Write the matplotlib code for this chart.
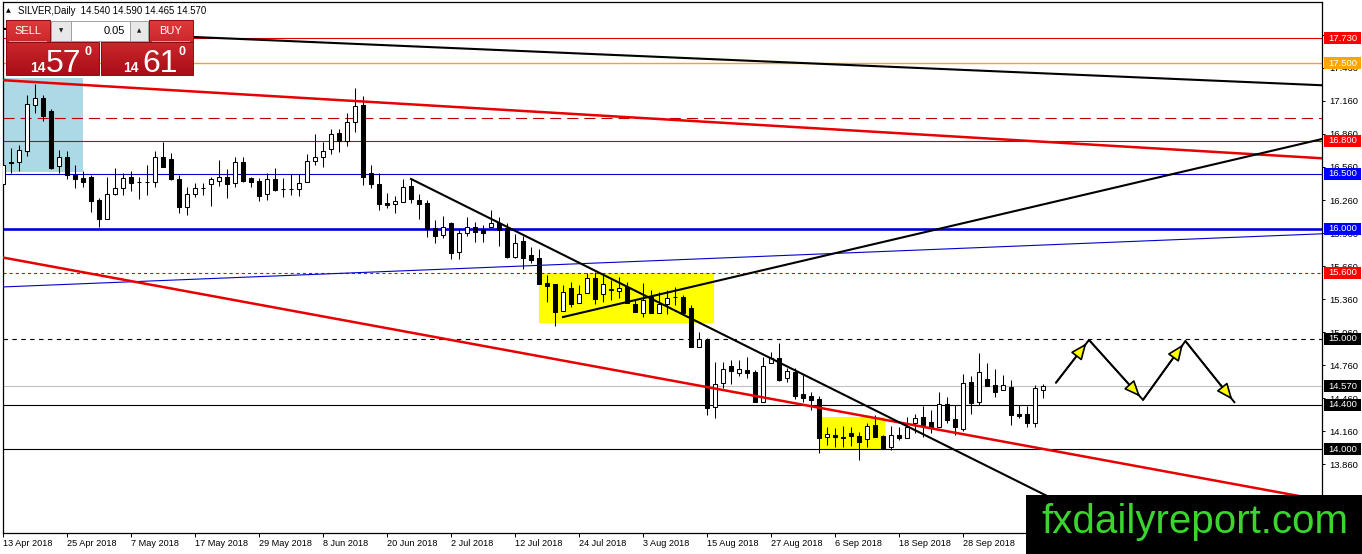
import numpy as np
import pandas as pd
import matplotlib
matplotlib.use('Agg')
import matplotlib.pyplot as plt
import matplotlib.colors as mcolors
import matplotlib.transforms as mtransforms
from matplotlib.patches import Rectangle, FancyArrowPatch
from matplotlib.ticker import FixedLocator, FormatStrFormatter

plt.rcParams['font.family'] = ['Liberation Sans', 'DejaVu Sans']
plt.rcParams['lines.scale_dashes'] = False

# ---------------- data ----------------
opens = [16.405, 16.605, 16.605, 16.705, 17.122, 17.186, 17.068, 16.569, 16.650, 16.487,
         16.460, 16.469, 16.260, 16.088, 16.315, 16.369, 16.469, 16.423, 16.425, 16.423,
         16.650, 16.632, 16.451, 16.197, 16.315, 16.365, 16.405, 16.433, 16.469, 16.414,
         16.605, 16.460, 16.433, 16.315, 16.451, 16.362, 16.358, 16.360, 16.423, 16.614,
         16.650, 16.723, 16.868, 16.796, 16.968, 17.122, 16.505, 16.405, 16.233, 16.224,
         16.242, 16.387, 16.260, 16.233, 16.006, 15.943, 16.052, 15.788, 15.961, 16.015,
         15.988, 16.015, 16.052, 16.006, 15.743, 15.888, 15.761, 15.734, 15.507, 15.498,
         15.253, 15.462, 15.326, 15.416, 15.552, 15.407, 15.444, 15.435, 15.471, 15.317,
         15.235, 15.380, 15.235, 15.317, 15.380, 15.380, 15.280, 14.926, 14.990, 14.382,
         14.600, 14.754, 14.690, 14.718, 14.700, 14.427, 14.781, 14.827, 14.645, 14.700,
         14.500, 14.482, 14.455, 14.110, 14.128, 14.110, 14.146, 14.119, 14.092, 14.219,
         14.119, 14.019, 14.128, 14.101, 14.237, 14.292, 14.246, 14.201, 14.409, 14.273,
         14.183, 14.609, 14.427, 14.636, 14.582, 14.536, 14.563, 14.318, 14.318, 14.237,
         14.540]
highs = [16.650, 16.732, 16.759, 17.213, 17.313, 17.213, 17.086, 16.714, 16.705, 16.578,
         16.523, 16.487, 16.278, 16.469, 16.550, 16.505, 16.523, 16.469, 16.578, 16.705,
         16.786, 16.687, 16.487, 16.378, 16.414, 16.414, 16.469, 16.623, 16.541, 16.650,
         16.650, 16.469, 16.460, 16.505, 16.550, 16.460, 16.496, 16.496, 16.678, 16.859,
         16.786, 16.904, 16.904, 17.050, 17.276, 17.204, 16.578, 16.505, 16.324, 16.297,
         16.451, 16.451, 16.315, 16.260, 16.079, 16.115, 16.061, 15.997, 16.106, 16.061,
         16.034, 16.170, 16.106, 16.052, 15.952, 15.934, 15.834, 15.815, 15.580, 15.498,
         15.489, 15.516, 15.489, 15.598, 15.607, 15.580, 15.534, 15.562, 15.516, 15.353,
         15.507, 15.444, 15.426, 15.444, 15.471, 15.398, 15.308, 15.062, 15.008, 14.790,
         14.790, 14.808, 14.808, 14.835, 14.718, 14.835, 14.881, 14.963, 14.736, 14.736,
         14.672, 14.518, 14.482, 14.201, 14.192, 14.210, 14.201, 14.155, 14.237, 14.309,
         14.128, 14.210, 14.201, 14.292, 14.318, 14.391, 14.355, 14.518, 14.473, 14.400,
         14.682, 14.663, 14.872, 14.781, 14.727, 14.672, 14.627, 14.400, 14.391, 14.582,
         14.590]
lows = [16.387, 16.505, 16.523, 16.659, 17.050, 16.977, 16.541, 16.505, 16.451, 16.369,
        16.378, 16.151, 16.015, 16.088, 16.306, 16.306, 16.342, 16.269, 16.306, 16.378,
        16.560, 16.442, 16.142, 16.124, 16.288, 16.306, 16.206, 16.387, 16.278, 16.378,
        16.423, 16.378, 16.251, 16.260, 16.342, 16.288, 16.306, 16.297, 16.420, 16.578,
        16.560, 16.678, 16.696, 16.750, 16.877, 16.396, 16.369, 16.170, 16.188, 16.142,
        16.242, 16.233, 16.088, 15.925, 15.870, 15.915, 15.725, 15.725, 15.934, 15.879,
        15.879, 16.006, 15.843, 15.734, 15.734, 15.634, 15.689, 15.498, 15.335, 15.117,
        15.253, 15.290, 15.326, 15.416, 15.317, 15.335, 15.353, 15.371, 15.326, 15.244,
        15.199, 15.235, 15.235, 15.226, 15.308, 15.235, 14.926, 14.926, 14.309, 14.282,
        14.555, 14.591, 14.663, 14.645, 14.427, 14.427, 14.781, 14.618, 14.609, 14.455,
        14.427, 14.355, 13.964, 14.037, 14.019, 14.019, 14.028, 13.901, 14.019, 14.110,
        14.001, 13.992, 14.082, 14.101, 14.146, 14.110, 14.146, 14.201, 14.237, 14.128,
        14.164, 14.318, 14.400, 14.573, 14.473, 14.536, 14.219, 14.280, 14.201, 14.201,
        14.465]
closes = [16.578, 16.596, 16.714, 17.131, 17.186, 17.022, 16.550, 16.650, 16.487, 16.451,
          16.423, 16.251, 16.088, 16.315, 16.369, 16.460, 16.414, 16.420, 16.420, 16.650,
          16.560, 16.451, 16.197, 16.315, 16.369, 16.369, 16.451, 16.469, 16.405, 16.605,
          16.433, 16.423, 16.297, 16.451, 16.351, 16.358, 16.362, 16.414, 16.614, 16.650,
          16.705, 16.859, 16.796, 16.968, 17.113, 16.469, 16.405, 16.224, 16.215, 16.251,
          16.378, 16.269, 16.224, 15.997, 15.934, 16.015, 15.779, 15.961, 16.015, 15.970,
          15.961, 16.052, 15.988, 15.743, 15.870, 15.734, 15.716, 15.498, 15.480, 15.244,
          15.426, 15.317, 15.407, 15.552, 15.362, 15.498, 15.450, 15.462, 15.326, 15.244,
          15.353, 15.235, 15.317, 15.371, 15.376, 15.235, 14.926, 14.999, 14.373, 14.591,
          14.727, 14.709, 14.727, 14.690, 14.427, 14.754, 14.827, 14.627, 14.709, 14.482,
          14.464, 14.446, 14.101, 14.137, 14.110, 14.101, 14.119, 14.065, 14.210, 14.110,
          14.001, 14.128, 14.101, 14.201, 14.282, 14.219, 14.192, 14.409, 14.264, 14.201,
          14.600, 14.418, 14.700, 14.573, 14.518, 14.582, 14.309, 14.300, 14.237, 14.554,
          14.570]
start_date = '2018-04-13'
dates = pd.bdate_range(start_date, periods=len(opens))

# horizontal levels
hline_prices = [17.730, 17.500, 17.000, 16.800, 16.500, 16.000, 15.600, 15.000, 14.570, 14.400, 14.000]
hline_colors = ['#e00000', '#ffa500', '#c00000', '#d00000', '#0000cd', '#0000dd', '#e00000', 'black', '#c0c0c0', 'black', 'black']
hline_widths = [0.8, 1.0, 0.8, 0.8, 0.8, 1.9, 0.8, 0.8, 0.8, 0.8, 0.8]
hline_styles = ['-', '-', (0, (8, 4.3)), '-', '-', '-', (0, (2.2, 2.2)), (0, (3.2, 3.2)), '-', '-', '-']

# price labels on the scale
label_prices = [17.730, 17.500, 16.800, 16.500, 16.000, 15.600, 15.000, 14.570, 14.400, 14.000]
label_colors = ['#ff0000', '#ffa500', '#ff0000', '#0000ff', '#0000ff', '#ff0000', 'black', 'black', 'black', 'black']

# infinite trend lines: (x0, p0, x1, p1)
trend_x0 = [24.0, -0.375, -0.375, -0.375]
trend_p0 = [17.739, 17.349, 15.470, 15.743]
trend_x1 = [164.375, 164.375, 164.375, 164.375]
trend_p1 = [17.303, 16.641, 15.952, 13.542]
trend_colors = ['black', '#e80000', '#0000cd', '#e80000']
trend_widths = [1.5, 1.8, 0.8, 1.8]

# rising black ray
ray_x = [70.0, 164.375]
ray_p = [15.198, 16.805]
# falling black segment
seg_x = [51.0, 132.0]
seg_p = [16.451, 13.520]

# boxes: (x0, x1, p_low, p_high)
box_x0 = [-1.0, 67.0, 102.1]
box_x1 = [10.0, 88.9, 110.2]
box_plo = [16.514, 15.145, 14.001]
box_phi = [17.367, 15.598, 14.291]
box_colors = ['#add8e6', '#ffff00', '#ffff00']

# projected path arrows
path_x = [131.6, 135.75, 142.5, 147.8, 154.0]
path_p = [14.600, 14.990, 14.446, 14.980, 14.418]

tick_step = 0.3
tick_base = 13.26

# ---------------- figure ----------------
W, H = 1362, 554
fig = plt.figure(figsize=(W / 100, H / 100), dpi=100, facecolor='white')
ax_l, ax_r, ax_t, ax_b = 2.5, 1322.0, 2.0, 533.0
ax = fig.add_axes([ax_l / W, 1 - ax_b / H, (ax_r - ax_l) / W, (ax_b - ax_t) / H])
ax.set_facecolor('white')

n = len(opens)
x = np.arange(n)
o = np.array(opens); h = np.array(highs); l = np.array(lows); c = np.array(closes)

ax.set_xlim(-0.0625, 164.875)
ax.set_ylim(13.238, 18.057)

# boxes
for x0, x1, plo, phi, col in zip(box_x0, box_x1, box_plo, box_phi, box_colors):
    ax.add_patch(Rectangle((x0, plo), x1 - x0, phi - plo, facecolor=col, edgecolor='none', zorder=1))

# horizontal lines
for p, col, lw, ls in zip(hline_prices, hline_colors, hline_widths, hline_styles):
    ax.axhline(p, color=col, lw=lw, ls=ls, zorder=2)

# candles
ax.vlines(x, l, h, color='black', lw=0.75, zorder=3)
for i in range(n):
    bottom = min(o[i], c[i])
    height = max(abs(c[i] - o[i]), 0.002)
    fc = 'white' if c[i] >= o[i] else 'black'
    ax.add_patch(Rectangle((x[i] - 0.26, bottom), 0.52, height, facecolor=fc,
                           edgecolor='black', lw=0.75, zorder=3.5))

# trend lines
for x0, p0, x1, p1, col, lw in zip(trend_x0, trend_p0, trend_x1, trend_p1, trend_colors, trend_widths):
    ax.axline((x0, p0), (x1, p1), color=col, lw=lw, zorder=4)
slope = (ray_p[1] - ray_p[0]) / (ray_x[1] - ray_x[0])
ax.plot([ray_x[0], 170], [ray_p[0], ray_p[0] + slope * (170 - ray_x[0])], color='black', lw=1.5, zorder=4)
ax.plot(seg_x, seg_p, color='black', lw=1.5, zorder=4)

# path arrows
ax.plot(path_x, path_p, color='black', lw=1.4, zorder=5, solid_capstyle='butt')
for i in range(len(path_x) - 1):
    arr = FancyArrowPatch((path_x[i], path_p[i]), (path_x[i + 1], path_p[i + 1]),
                          arrowstyle='-|>,head_length=1.0,head_width=0.42', mutation_scale=10,
                          shrinkA=0, shrinkB=3, facecolor='#ffff00', edgecolor='black',
                          lw=1.2, zorder=6)
    ax.add_patch(arr)

# axes styling
for s in ax.spines.values():
    s.set_color('black'); s.set_linewidth(0.9)
ax.yaxis.tick_right()
ticks = np.round(np.arange(tick_base, 18.1, tick_step), 3)
ax.yaxis.set_major_locator(FixedLocator(ticks))
ax.yaxis.set_major_formatter(FormatStrFormatter('%.3f'))
ax.tick_params(axis='y', direction='out', length=2.5, width=0.7, pad=3, labelsize=6.8, colors='black')
xt = list(range(0, n, 8))
ax.set_xticks(xt)
ax.set_xticklabels([f"{dates[i].day} {dates[i].strftime('%b %Y')}" for i in xt])
ax.tick_params(axis='x', direction='out', length=3, width=0.7, pad=1.5, labelsize=6.6, colors='black')
for t in ax.get_xticklabels():
    t.set_ha('left')

# price labels
trans = mtransforms.blended_transform_factory(ax.transAxes, ax.transData)
axw = ax_r - ax_l
box_h = 12 / 110.19
for p, col in zip(label_prices, label_colors):
    ax.add_patch(Rectangle(((1324 - ax_l) / axw, p - box_h / 2), 37 / axw, box_h, transform=trans,
                           facecolor=col, edgecolor='none', clip_on=False, zorder=10))
    ax.text((1328 - ax_l) / axw, p, f"{p:.3f}", transform=trans, color='white', fontsize=6.8,
            ha='left', va='center', clip_on=False, zorder=11)

# ---------------- figure-level overlays ----------------
def frect(x0, y0, x1, y1, **kw):
    r = Rectangle((x0 / W, 1 - y1 / H), (x1 - x0) / W, (y1 - y0) / H, transform=fig.transFigure, **kw)
    fig.add_artist(r)

def ftext(xp, yp, s, **kw):
    fig.text(xp / W, 1 - yp / H, s, **kw)

ctop = np.array(mcolors.to_rgb('#e03a3a'))
cbot = np.array(mcolors.to_rgb('#a80c16'))
def red_grad(x0, y0, x1, y1, ymin=20.0, ymax=75.0, steps=16):
    for k in range(steps):
        ya = y0 + (y1 - y0) * k / steps
        yb = y0 + (y1 - y0) * (k + 1) / steps
        t = ((ya + yb) / 2 - ymin) / (ymax - ymin)
        frect(x0, ya, x1, yb + 0.4, facecolor=ctop * (1 - t) + cbot * t, edgecolor='none', lw=0)

# header
ftext(6, 11, '\u25b2', fontsize=4.5, color='black', ha='left', va='center', family=['DejaVu Sans'])
ftext(18, 11, f"SILVER,Daily  {opens[-1]:.3f} {highs[-1]:.3f} {lows[-1]:.3f} {closes[-1]:.3f}",
      fontsize=6.9, color='black', ha='left', va='center')

# sell / buy panel
for (bx0, bx1, kx0, kx1) in [(6, 50, 6, 99), (149, 193, 101, 193)]:
    red_grad(bx0, 20, bx1, 42)
    red_grad(kx0, 42, kx1, 75)
    frect(bx0, 20, bx1, 42, facecolor='none', edgecolor='#8c0a10', lw=0.7)
    frect(kx0, 42, kx1, 75, facecolor='none', edgecolor='#8c0a10', lw=0.7)
    frect(bx0 + 3, 40.6, bx1 - 3, 41.6, facecolor='#f09090', edgecolor='none')
ftext(27.5, 31, 'SELL', fontsize=8, color='white', ha='center', va='center')
ftext(171, 31, 'BUY', fontsize=8, color='white', ha='center', va='center')
frect(51, 21, 71, 41, facecolor='#e8e8e8', edgecolor='#a0a0a0', lw=0.7)
frect(71, 21, 130, 41, facecolor='white', edgecolor='#a0a0a0', lw=0.7)
frect(130, 21, 148, 41, facecolor='#e8e8e8', edgecolor='#a0a0a0', lw=0.7)
ftext(61, 31, '\u25bc', fontsize=4, color='#202020', ha='center', va='center', family=['DejaVu Sans'])
ftext(139, 31, '\u25b2', fontsize=4, color='#202020', ha='center', va='center', family=['DejaVu Sans'])
ftext(125, 31, '0.05', fontsize=8, color='black', ha='right', va='center')

ftext(37.5, 72, '14', fontsize=10, weight='bold', color='white', ha='center', va='baseline')
ftext(63.5, 71.5, '57', fontsize=23, color='white', ha='center', va='baseline')
ftext(88, 55, '0', fontsize=9, weight='bold', color='white', ha='center', va='baseline')
ftext(131, 72, '14', fontsize=10, weight='bold', color='white', ha='center', va='baseline')
ftext(160, 71.5, '61', fontsize=23, color='white', ha='center', va='baseline')
ftext(182.5, 55, '0', fontsize=9, weight='bold', color='white', ha='center', va='baseline')

# watermark banner
frect(1026, 495, 1362, 554, facecolor='black', edgecolor='none')
ftext(1041, 533, 'fxdailyreport.com', fontsize=29, color='#3ad62e', ha='left', va='baseline')

fig.savefig('out.png', dpi=100, facecolor='white')
